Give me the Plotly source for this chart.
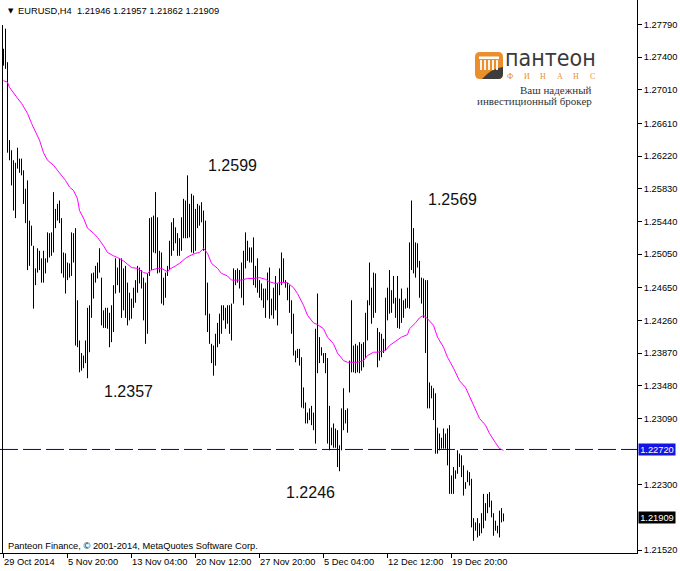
import plotly.graph_objects as go

# ---------------- data ----------------
symbol = "EURUSD,H4"
last_ohlc = [1.21946, 1.21957, 1.21862, 1.21909]

high = [
    1.2750, 1.2774, 1.2734, 1.2641, 1.2629, 1.2617, 1.2614, 1.2632, 1.2619, 1.2619,
    1.2605, 1.2583, 1.2593, 1.2545, 1.2539, 1.2515, 1.2488, 1.2512, 1.2509, 1.2500,
    1.2509, 1.2500, 1.2531, 1.2530, 1.2531, 1.2579, 1.2559, 1.2565, 1.2569, 1.2548,
    1.2507, 1.2506, 1.2495, 1.2494, 1.2531, 1.2530, 1.2536, 1.2450, 1.2402, 1.2387,
    1.2384, 1.2402, 1.2441, 1.2444, 1.2482, 1.2483, 1.2491, 1.2495, 1.2512, 1.2477,
    1.2438, 1.2441, 1.2441, 1.2435, 1.2444, 1.2468, 1.2500, 1.2489, 1.2500, 1.2500,
    1.2488, 1.2491, 1.2471, 1.2459, 1.2452, 1.2465, 1.2474, 1.2491, 1.2489, 1.2486,
    1.2477, 1.2471, 1.2482, 1.2548, 1.2549, 1.2551, 1.2579, 1.2549, 1.2509, 1.2507,
    1.2477, 1.2483, 1.2491, 1.2521, 1.2543, 1.2548, 1.2537, 1.2530, 1.2524, 1.2549,
    1.2571, 1.2569, 1.2599, 1.2565, 1.2577, 1.2575, 1.2559, 1.2565, 1.2563, 1.2567,
    1.2557, 1.2545, 1.2471, 1.2434, 1.2398, 1.2396, 1.2410, 1.2423, 1.2434, 1.2444,
    1.2444, 1.2441, 1.2444, 1.2444, 1.2446, 1.2488, 1.2486, 1.2488, 1.2486, 1.2495,
    1.2509, 1.2531, 1.2521, 1.2513, 1.2513, 1.2525, 1.2491, 1.2500, 1.2474, 1.2470,
    1.2464, 1.2464, 1.2483, 1.2489, 1.2452, 1.2465, 1.2479, 1.2470, 1.2488, 1.2507,
    1.2500, 1.2474, 1.2471, 1.2468, 1.2450, 1.2434, 1.2390, 1.2392, 1.2392, 1.2382,
    1.2346, 1.2328, 1.2316, 1.2321, 1.2324, 1.2316, 1.2416, 1.2458, 1.2406, 1.2394,
    1.2387, 1.2387, 1.2381, 1.2324, 1.2298, 1.2303, 1.2297, 1.2295, 1.2277, 1.2321,
    1.2345, 1.2319, 1.2321, 1.2378, 1.2450, 1.2396, 1.2398, 1.2396, 1.2400, 1.2398,
    1.2400, 1.2435, 1.2450, 1.2495, 1.2465, 1.2483, 1.2482, 1.2417, 1.2412, 1.2410,
    1.2404, 1.2453, 1.2465, 1.2486, 1.2462, 1.2479, 1.2453, 1.2479, 1.2452, 1.2464,
    1.2450, 1.2452, 1.2465, 1.2519, 1.2569, 1.2536, 1.2519, 1.2518, 1.2497, 1.2477,
    1.2476, 1.2474, 1.2474, 1.2352, 1.2348, 1.2345, 1.2339, 1.2298, 1.2291, 1.2286,
    1.2297, 1.2291, 1.2297, 1.2301, 1.2241, 1.2251, 1.2247, 1.2271, 1.2267, 1.2265,
    1.2253, 1.2233, 1.2247, 1.2245, 1.2237, 1.2190, 1.2185, 1.2190, 1.2184, 1.2196,
    1.2219, 1.2208, 1.2219, 1.2221, 1.2211, 1.2196, 1.2187, 1.2181, 1.2199, 1.2202,
    1.21957,
]

low = [
    1.2730, 1.2726, 1.2626, 1.2617, 1.2587, 1.2557, 1.2548, 1.2607, 1.2602, 1.2599,
    1.2565, 1.2542, 1.2486, 1.2491, 1.2515, 1.2440, 1.2468, 1.2483, 1.2486, 1.2471,
    1.2471, 1.2482, 1.2495, 1.2501, 1.2503, 1.2507, 1.2536, 1.2545, 1.2542, 1.2482,
    1.2477, 1.2458, 1.2474, 1.2477, 1.2479, 1.2495, 1.2396, 1.2394, 1.2364, 1.2366,
    1.2369, 1.2375, 1.2357, 1.2388, 1.2429, 1.2452, 1.2471, 1.2476, 1.2483, 1.2420,
    1.2417, 1.2417, 1.2416, 1.2394, 1.2400, 1.2412, 1.2458, 1.2468, 1.2459, 1.2429,
    1.2438, 1.2429, 1.2420, 1.2426, 1.2428, 1.2441, 1.2447, 1.2459, 1.2470, 1.2464,
    1.2426, 1.2398, 1.2410, 1.2479, 1.2486, 1.2507, 1.2506, 1.2482, 1.2483, 1.2446,
    1.2444, 1.2453, 1.2479, 1.2486, 1.2503, 1.2509, 1.2518, 1.2503, 1.2503, 1.2509,
    1.2524, 1.2524, 1.2524, 1.2525, 1.2507, 1.2506, 1.2509, 1.2536, 1.2539, 1.2543,
    1.2509, 1.2432, 1.2412, 1.2398, 1.2375, 1.2360, 1.2372, 1.2394, 1.2398, 1.2410,
    1.2426, 1.2416, 1.2422, 1.2410, 1.2402, 1.2446, 1.2468, 1.2471, 1.2464, 1.2453,
    1.2444, 1.2488, 1.2497, 1.2495, 1.2495, 1.2468, 1.2465, 1.2459, 1.2453, 1.2450,
    1.2441, 1.2429, 1.2450, 1.2428, 1.2432, 1.2428, 1.2438, 1.2420, 1.2456, 1.2468,
    1.2471, 1.2465, 1.2450, 1.2435, 1.2410, 1.2384, 1.2376, 1.2381, 1.2372, 1.2322,
    1.2321, 1.2303, 1.2303, 1.2307, 1.2301, 1.2295, 1.2279, 1.2363, 1.2375, 1.2384,
    1.2375, 1.2363, 1.2279, 1.2271, 1.2277, 1.2274, 1.2274, 1.2251, 1.2246, 1.2271,
    1.2295, 1.2303, 1.2292, 1.2340, 1.2364, 1.2364, 1.2363, 1.2364, 1.2363, 1.2366,
    1.2370, 1.2381, 1.2402, 1.2444, 1.2422, 1.2429, 1.2435, 1.2370, 1.2378, 1.2382,
    1.2387, 1.2390, 1.2426, 1.2434, 1.2435, 1.2446, 1.2429, 1.2417, 1.2416, 1.2423,
    1.2429, 1.2440, 1.2441, 1.2440, 1.2486, 1.2482, 1.2477, 1.2489, 1.2453, 1.2446,
    1.2429, 1.2387, 1.2321, 1.2321, 1.2333, 1.2307, 1.2267, 1.2267, 1.2271, 1.2273,
    1.2273, 1.2273, 1.2253, 1.2219, 1.2219, 1.2219, 1.2237, 1.2243, 1.2251, 1.2239,
    1.2217, 1.2225, 1.2233, 1.2229, 1.2179, 1.2163, 1.2175, 1.2167, 1.2169, 1.2172,
    1.2178, 1.2187, 1.2196, 1.2203, 1.2191, 1.2169, 1.2175, 1.2172, 1.2167, 1.2185,
    1.21862,
]

ma_bar = [
    0, 2, 3, 5, 7, 9, 12, 14, 16, 18, 20, 22, 25, 28, 31, 33, 35, 37, 38, 40,
    42, 45, 47, 50, 52, 55, 57, 60, 63, 64, 67, 70, 72, 74, 77, 79, 82, 83, 86, 88,
    91, 93, 96, 98, 100, 102, 104, 107, 109, 112, 114, 117, 119, 122, 125, 128, 131, 133, 136, 138,
    142, 145, 147, 150, 152, 155, 157, 160, 162, 165, 167, 170, 172, 175, 177, 180, 182, 185, 187, 191,
    193, 196, 199, 202, 203, 206, 208, 210, 212, 215, 217, 220, 222, 225, 228, 231, 233, 236, 238, 241,
    243, 246, 248, 250,
]
ma_value = [
    1.2712, 1.2710, 1.2704, 1.2697, 1.2691, 1.2685, 1.2673, 1.2661, 1.2650, 1.2641,
    1.2626, 1.2617, 1.2611, 1.2602, 1.2593, 1.2585, 1.2581, 1.2571, 1.2557, 1.2548,
    1.2536, 1.2530, 1.2525, 1.2515, 1.2507, 1.2503, 1.2501, 1.2497, 1.2491, 1.2489,
    1.2488, 1.2483, 1.2482, 1.2486, 1.2488, 1.2488, 1.2484, 1.2487, 1.2491, 1.2494,
    1.2500, 1.2503, 1.2506, 1.2507, 1.2512, 1.2506, 1.2494, 1.2488, 1.2482, 1.2479,
    1.2474, 1.2474, 1.2474, 1.2476, 1.2476, 1.2477, 1.2475, 1.2472, 1.2470, 1.2471,
    1.2471, 1.2465, 1.2458, 1.2444, 1.2432, 1.2423, 1.2421, 1.2416, 1.2406, 1.2398,
    1.2387, 1.2378, 1.2376, 1.2376, 1.2376, 1.2378, 1.2384, 1.2388, 1.2388, 1.2390,
    1.2396, 1.2401, 1.2406, 1.2409, 1.2416, 1.2423, 1.2429, 1.2432, 1.2428, 1.2420,
    1.2406, 1.2394, 1.2382, 1.2369, 1.2354, 1.2346, 1.2336, 1.2321, 1.2309, 1.2301,
    1.2291, 1.2280, 1.2273, 1.2271,
]

date_tick_bar = [0, 32, 64, 96, 128, 160, 192, 224]
date_tick_text = ["29 Oct 2014", "5 Nov 20:00", "13 Nov 04:00", "20 Nov 12:00",
                  "27 Nov 20:00", "5 Dec 04:00", "12 Dec 12:00", "19 Dec 20:00"]

price_ticks = [1.27790, 1.27400, 1.27010, 1.26610, 1.26220, 1.25830, 1.25440,
               1.25050, 1.24650, 1.24260, 1.23870, 1.23480, 1.23090, 1.22300, 1.21520]
hline_price = 1.22720

extreme_text = ["1.2599", "1.2357", "1.2246", "1.2569"]

# ---------------- geometry / style ----------------
W, H = 680, 571
PW, PH = 637, 553          # plot area in px (starts at 0,0)
SCALE = 0.0001193          # price per pixel
Y_TOP = 1.28082
Y_BOT = Y_TOP - PH * SCALE
X_LEFT, X_RIGHT = -1.75, 316.75
FONT = "Liberation Sans, Arial, sans-serif"
FS = 9.3


def xp(px):
    return px / PW


def yp(py):
    return 1 - py / PH


# bars as vertical high-low segments
bx, by = [], []
for i, (h, l) in enumerate(zip(high, low)):
    bx += [i, i, None]
    by += [l, h, None]

fig = go.Figure()
fig.add_trace(go.Scatter(x=bx, y=by, mode="lines",
                         line=dict(color="black", width=1), hoverinfo="skip"))
fig.add_trace(go.Scatter(x=ma_bar, y=ma_value, mode="lines",
                         line=dict(color="#ff00ff", width=1), hoverinfo="skip"))

shapes = []
# horizontal dashed line
shapes.append(dict(type="line", xref="paper", x0=0, x1=1, yref="y",
                   y0=hline_price, y1=hline_price,
                   line=dict(color="#0000b4", width=1, dash="18px,5px")))
# left vertical frame line
shapes.append(dict(type="line", xref="paper", x0=xp(2.5), x1=xp(2.5), yref="paper",
                   y0=yp(553), y1=yp(25), line=dict(color="black", width=1)))


def path(cmds):
    out = []
    for c, pts in cmds:
        s = c
        for (px, py) in pts:
            s += f" {xp(px):.5f},{yp(py):.5f}"
        out.append(s)
    return " ".join(out) + " Z"


# logo icon
shapes.append(dict(type="path", xref="paper", yref="paper", line=dict(width=0),
                   fillcolor="#eb8f2c",
                   path=path([("M", [(480, 52)]), ("L", [(498, 52)]), ("Q", [(503, 52), (503, 57)]),
                              ("L", [(503, 74)]), ("Q", [(503, 79), (498, 79)]), ("L", [(480, 79)]),
                              ("Q", [(475, 79), (475, 74)]), ("L", [(475, 57)]),
                              ("Q", [(475, 52), (480, 52)])])))
shapes.append(dict(type="path", xref="paper", yref="paper", line=dict(width=0),
                   fillcolor="#3d3d3d",
                   path=path([("M", [(482, 79)]), ("Q", [(492, 68), (503, 67)]),
                              ("L", [(503, 74)]), ("Q", [(503, 79), (498, 79)])])))
shapes.append(dict(type="rect", xref="paper", yref="paper", line=dict(width=0),
                   fillcolor="white", x0=xp(479), x1=xp(499), y0=yp(59), y1=yp(56.5)))
for cx in [481, 485, 489, 493, 497]:
    shapes.append(dict(type="rect", xref="paper", yref="paper", line=dict(width=0),
                       fillcolor="white", x0=xp(cx - 0.9), x1=xp(cx + 0.9),
                       y0=yp(70), y1=yp(60)))

ann = []
# header
ann.append(dict(xref="paper", yref="paper", x=xp(6), y=yp(11), xanchor="left", yanchor="middle",
                text="▼", showarrow=False, font=dict(family="DejaVu Sans", size=7, color="black")))
ann.append(dict(xref="paper", yref="paper", x=xp(16), y=yp(11), xanchor="left", yanchor="middle",
                text=symbol + "&nbsp;&nbsp;" + " ".join(f"{v:.5f}" for v in last_ohlc),
                showarrow=False, font=dict(family=FONT, size=FS, color="black")))
ann.append(dict(xref="paper", yref="paper", x=xp(6), y=yp(546), xanchor="left", yanchor="middle",
                text="Panteon Finance, © 2001-2014, MetaQuotes Software Corp.",
                showarrow=False, font=dict(family=FONT, size=FS, color="black")))
# date labels
for b, t in zip(date_tick_bar, date_tick_text):
    ann.append(dict(xref="x", yref="paper", x=b, y=yp(562), xanchor="left", yanchor="middle",
                    xshift=-2, text=t, showarrow=False,
                    font=dict(family=FONT, size=FS, color="black")))
# price boxes
ann.append(dict(xref="paper", yref="y", x=1, y=hline_price, xanchor="left", yanchor="middle",
                xshift=1, text=f"{hline_price:.5f}", showarrow=False, bgcolor="#1414e6",
                width=36, height=11, borderpad=0,
                font=dict(family=FONT, size=FS, color="white")))
ann.append(dict(xref="paper", yref="y", x=1, y=last_ohlc[3], xanchor="left", yanchor="middle",
                xshift=1, text=f"{last_ohlc[3]:.5f}", showarrow=False, bgcolor="black",
                width=36, height=11, borderpad=0,
                font=dict(family=FONT, size=FS, color="white")))
# extreme labels
ext_pos = [(114.25, 1.26108), (62.25, 1.23411), (153.25, 1.22206), (224.25, 1.25702)]
for t, (ex, ey) in zip(extreme_text, ext_pos):
    ann.append(dict(xref="x", yref="y", x=ex, y=ey, xanchor="center", yanchor="middle",
                    text=t, showarrow=False,
                    font=dict(family=FONT, size=16, color="#101010")))
# logo text
ann.append(dict(xref="paper", yref="paper", x=xp(504), y=yp(72), xanchor="left", yanchor="bottom",
                text="пантеон", showarrow=False, borderpad=0,
                font=dict(family="Liberation Sans Narrow, DejaVu Sans Condensed, Liberation Sans",
                          size=23, color="#3a3a3a")))
for k, ch in enumerate("ФИНАНС"):
    ann.append(dict(xref="paper", yref="paper", x=xp(510 + 16.5 * k), y=yp(77), xanchor="center",
                    yanchor="middle", text=ch, showarrow=False, borderpad=0,
                    font=dict(family="Liberation Serif, DejaVu Serif", size=8, color="#e8902a")))
ann.append(dict(xref="paper", yref="paper", x=xp(594), y=yp(90), xanchor="right", yanchor="middle",
                text="Ваш надежный", showarrow=False,
                font=dict(family="Liberation Serif, DejaVu Serif", size=11, color="#333333")))
ann.append(dict(xref="paper", yref="paper", x=xp(594), y=yp(101), xanchor="right", yanchor="middle",
                text="инвестиционный брокер", showarrow=False,
                font=dict(family="Liberation Serif, DejaVu Serif", size=11, color="#333333")))

fig.update_layout(
    width=W, height=H,
    margin=dict(l=0, r=W - PW, t=0, b=H - PH, pad=0),
    paper_bgcolor="white", plot_bgcolor="white",
    showlegend=False,
    shapes=shapes, annotations=ann,
    xaxis=dict(range=[X_LEFT, X_RIGHT], showgrid=False, zeroline=False,
               showline=True, linecolor="black", linewidth=1,
               tickmode="array", tickvals=date_tick_bar, showticklabels=False,
               ticks="outside", ticklen=4, tickcolor="black", automargin=False,
               fixedrange=True),
    yaxis=dict(range=[Y_BOT, Y_TOP], side="right", showgrid=False, zeroline=False,
               showline=True, linecolor="black", linewidth=1,
               tickmode="array", tickvals=price_ticks,
               ticktext=[f"{v:.5f}" for v in price_ticks],
               ticks="outside", ticklen=4, tickcolor="black",
               tickfont=dict(family=FONT, size=FS, color="black"),
               automargin=False, fixedrange=True),
)

fig.write_html("out.html", config={"displayModeBar": False},
               post_script="document.body.style.margin='0px';document.body.style.overflow='hidden';")
